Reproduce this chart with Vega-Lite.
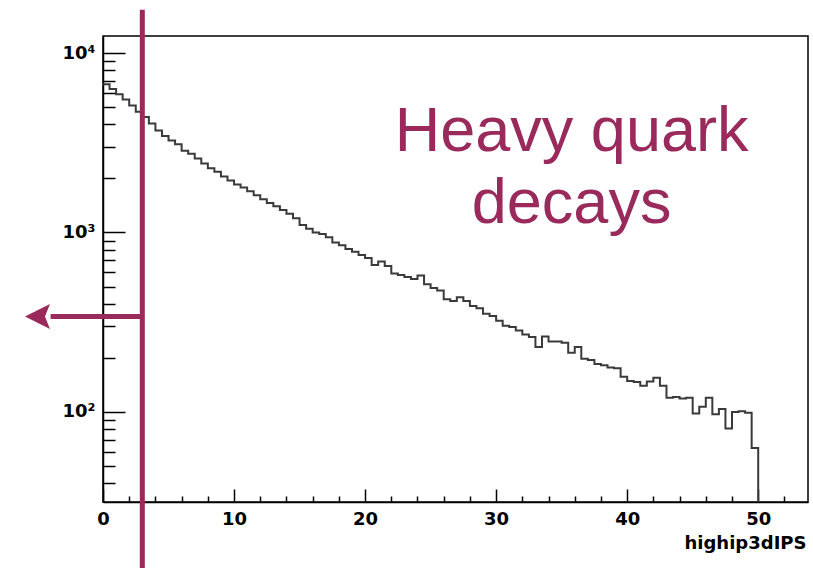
{
  "$schema": "https://vega.github.io/schema/vega-lite/v6.json",
  "width": 705,
  "height": 466,
  "autosize": {"type": "none"},
  "padding": {"left": 103, "top": 36, "right": 5, "bottom": 83},
  "background": "white",
  "config": {"view": {"stroke": "black", "strokeWidth": 1.5}},
  "datasets": {
    "hist": [
      {"x": 0, "y": 6700}, {"x": 0.5, "y": 6300}, {"x": 1, "y": 5900}, {"x": 1.5, "y": 5500},
      {"x": 2, "y": 5100}, {"x": 2.5, "y": 4700}, {"x": 3, "y": 4400}, {"x": 3.5, "y": 4050},
      {"x": 4, "y": 3700}, {"x": 4.5, "y": 3450}, {"x": 5, "y": 3250}, {"x": 5.5, "y": 3100},
      {"x": 6, "y": 2850}, {"x": 6.5, "y": 2750}, {"x": 7, "y": 2580}, {"x": 7.5, "y": 2420},
      {"x": 8, "y": 2280}, {"x": 8.5, "y": 2180}, {"x": 9, "y": 2050}, {"x": 9.5, "y": 1950},
      {"x": 10, "y": 1850}, {"x": 10.5, "y": 1780}, {"x": 11, "y": 1700}, {"x": 11.5, "y": 1610},
      {"x": 12, "y": 1530}, {"x": 12.5, "y": 1460}, {"x": 13, "y": 1400}, {"x": 13.5, "y": 1334},
      {"x": 14, "y": 1270}, {"x": 14.5, "y": 1200}, {"x": 15, "y": 1100}, {"x": 15.5, "y": 1050},
      {"x": 16, "y": 1000}, {"x": 16.5, "y": 980}, {"x": 17, "y": 940}, {"x": 17.5, "y": 880},
      {"x": 18, "y": 850}, {"x": 18.5, "y": 810}, {"x": 19, "y": 780}, {"x": 19.5, "y": 750},
      {"x": 20, "y": 720}, {"x": 20.5, "y": 660}, {"x": 21, "y": 690}, {"x": 21.5, "y": 650},
      {"x": 22, "y": 590}, {"x": 22.5, "y": 580}, {"x": 23, "y": 565}, {"x": 23.5, "y": 550},
      {"x": 24, "y": 575}, {"x": 24.5, "y": 515}, {"x": 25, "y": 490}, {"x": 25.5, "y": 475},
      {"x": 26, "y": 425}, {"x": 26.5, "y": 415}, {"x": 27, "y": 435}, {"x": 27.5, "y": 415},
      {"x": 28, "y": 390}, {"x": 28.5, "y": 378}, {"x": 29, "y": 352}, {"x": 29.5, "y": 342},
      {"x": 30, "y": 322}, {"x": 30.5, "y": 302}, {"x": 31, "y": 297}, {"x": 31.5, "y": 284},
      {"x": 32, "y": 270}, {"x": 32.5, "y": 262}, {"x": 33, "y": 230}, {"x": 33.5, "y": 263},
      {"x": 34, "y": 247}, {"x": 34.5, "y": 247}, {"x": 35, "y": 243}, {"x": 35.5, "y": 214},
      {"x": 36, "y": 230}, {"x": 36.5, "y": 198}, {"x": 37, "y": 195}, {"x": 37.5, "y": 185},
      {"x": 38, "y": 182}, {"x": 38.5, "y": 177}, {"x": 39, "y": 175}, {"x": 39.5, "y": 157},
      {"x": 40, "y": 149}, {"x": 40.5, "y": 147}, {"x": 41, "y": 140}, {"x": 41.5, "y": 148},
      {"x": 42, "y": 155}, {"x": 42.5, "y": 140}, {"x": 43, "y": 120}, {"x": 43.5, "y": 121},
      {"x": 44, "y": 119}, {"x": 44.5, "y": 120}, {"x": 45, "y": 98}, {"x": 45.5, "y": 107},
      {"x": 46, "y": 120}, {"x": 46.5, "y": 97}, {"x": 47, "y": 104}, {"x": 47.5, "y": 81},
      {"x": 48, "y": 100}, {"x": 48.5, "y": 101}, {"x": 49, "y": 99}, {"x": 49.5, "y": 63},
      {"x": 50, "y": 20}
    ],
    "vline": [{"x": 3, "y": 17400, "y2": 13.5}],
    "arrow": [{"x": -4, "x2": 3, "y": 340}],
    "head": [{"x": -5, "y": 340}],
    "label": [
      {"x": 35.76, "y": 2845, "t": "Heavy quark"},
      {"x": 35.76, "y": 1125, "t": "decays"}
    ]
  },
  "layer": [
    {
      "data": {"name": "hist"},
      "mark": {"type": "line", "interpolate": "step-after", "color": "#3a3a3a", "strokeWidth": 2, "clip": true},
      "encoding": {
        "x": {
          "field": "x", "type": "quantitative",
          "scale": {"domain": [0, 53.8], "nice": false, "zero": false},
          "axis": {
            "title": "highip3dIPS",
            "values": [0, 2, 4, 6, 8, 10, 12, 14, 16, 18, 20, 22, 24, 26, 28, 30, 32, 34, 36, 38, 40, 42, 44, 46, 48, 50, 52],
            "tickCount": 200,
            "format": "d",
            "labelExpr": "datum.value % 10 === 0 ? format(datum.value, 'd') : ''",
            "tickSize": {"condition": {"test": "datum.value % 10 === 0", "value": -13}, "value": -6},
            "labelPadding": 21,
            "labelFlush": false,
            "labelOverlap": false,
            "labelFont": "DejaVu Sans",
            "labelFontWeight": "bold",
            "labelFontSize": 18,
            "labelColor": "black",
            "tickColor": "black",
            "tickWidth": 1.5,
            "domainColor": "black",
            "domainWidth": 1.5,
            "grid": false,
            "titleFont": "DejaVu Sans",
            "titleFontWeight": "bold",
            "titleFontSize": 18,
            "titleColor": "black",
            "titleAnchor": "end",
            "titleAlign": "right",
            "titleBaseline": "alphabetic",
            "titleX": 703,
            "titleY": 46
          }
        },
        "y": {
          "field": "y", "type": "quantitative",
          "scale": {"type": "log", "domain": [31.5, 12440], "nice": false},
          "axis": {
            "title": null,
            "values": [40, 50, 60, 70, 80, 90, 100, 200, 300, 400, 500, 600, 700, 800, 900, 1000, 2000, 3000, 4000, 5000, 6000, 7000, 8000, 9000, 10000],
            "tickCount": 200,
            "labelExpr": "datum.value == 100 ? '10²' : datum.value == 1000 ? '10³' : datum.value == 10000 ? '10⁴' : ''",
            "tickSize": {"condition": {"test": "datum.value == 100 || datum.value == 1000 || datum.value == 10000", "value": -22}, "value": -12},
            "labelPadding": 30,
            "labelFlush": false,
            "labelOverlap": false,
            "labelFont": "DejaVu Sans",
            "labelFontWeight": "bold",
            "labelFontSize": 18,
            "labelColor": "black",
            "tickColor": "black",
            "tickWidth": 1.5,
            "domainColor": "black",
            "domainWidth": 1.5,
            "grid": false
          }
        }
      }
    },
    {
      "data": {"name": "vline"},
      "mark": {"type": "rule", "color": "#9a2a5b", "strokeWidth": 5, "clip": false},
      "encoding": {
        "x": {"field": "x", "type": "quantitative", "scale": {"domain": [0, 53.8], "nice": false, "zero": false}},
        "y": {"field": "y", "type": "quantitative", "scale": {"type": "log", "domain": [31.5, 12440], "nice": false}},
        "y2": {"field": "y2"}
      }
    },
    {
      "data": {"name": "arrow"},
      "mark": {"type": "rule", "color": "#9a2a5b", "strokeWidth": 5, "clip": false},
      "encoding": {
        "x": {"field": "x", "type": "quantitative", "scale": {"domain": [0, 53.8], "nice": false, "zero": false}},
        "x2": {"field": "x2"},
        "y": {"field": "y", "type": "quantitative", "scale": {"type": "log", "domain": [31.5, 12440], "nice": false}}
      }
    },
    {
      "data": {"name": "head"},
      "mark": {"type": "point", "shape": "M-1,0L1,-1L0.6,0L1,1Z", "size": 625, "filled": true, "color": "#9a2a5b", "opacity": 1, "strokeWidth": 0, "clip": false},
      "encoding": {
        "x": {"field": "x", "type": "quantitative", "scale": {"domain": [0, 53.8], "nice": false, "zero": false}},
        "y": {"field": "y", "type": "quantitative", "scale": {"type": "log", "domain": [31.5, 12440], "nice": false}}
      }
    },
    {
      "data": {"name": "label"},
      "mark": {"type": "text", "font": "Liberation Sans", "fontSize": 63, "color": "#9a2a5b", "align": "center", "baseline": "alphabetic"},
      "encoding": {
        "x": {"field": "x", "type": "quantitative", "scale": {"domain": [0, 53.8], "nice": false, "zero": false}},
        "y": {"field": "y", "type": "quantitative", "scale": {"type": "log", "domain": [31.5, 12440], "nice": false}},
        "text": {"field": "t"}
      }
    }
  ]
}
